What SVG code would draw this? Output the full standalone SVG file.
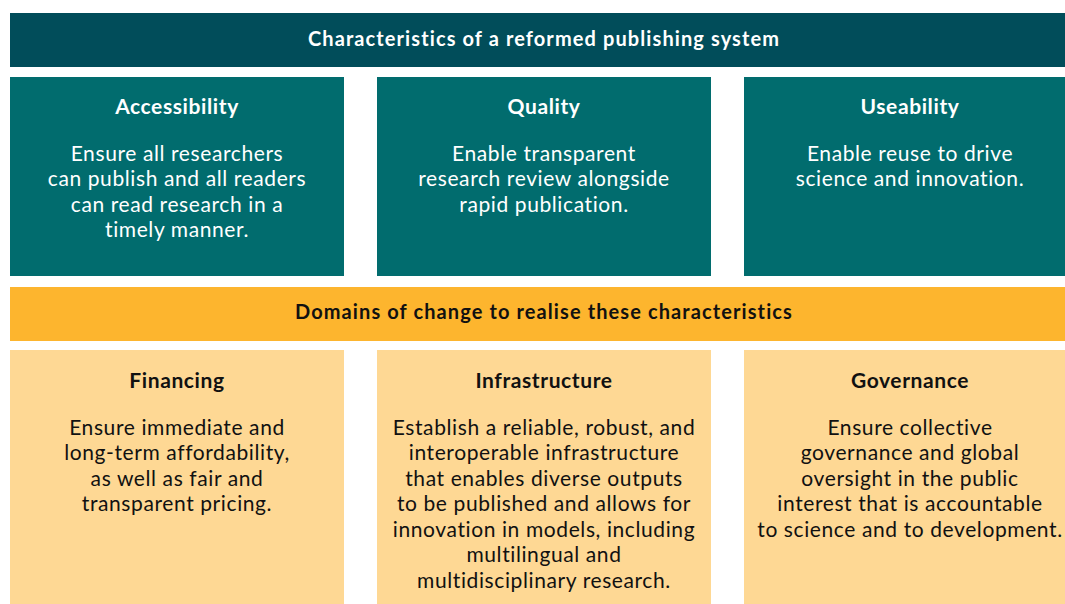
<svg xmlns="http://www.w3.org/2000/svg" width="1065" height="604" viewBox="0 0 1065 604">
  <style>
    .banner-dark { fill: #014d5a; }
    .teal { fill: #016c6e; }
    .banner-gold { fill: #fdb52e; }
    .light { fill: #fed894; }
    text { font-family: "Lato", "Liberation Sans", sans-serif; text-anchor: middle; }
    .title { font-size: 20px; font-weight: 700; letter-spacing: 1.1px; }
    .head { font-size: 21px; font-weight: 700; letter-spacing: 0.6px; }
    .body { font-size: 21px; font-weight: 400; letter-spacing: 0.6px; }
    .w { fill: #ffffff; }
    .k { fill: #111111; }
  </style>
  <rect width="1065" height="604" fill="#ffffff"/>

  <!-- Top banner -->
  <g id="banner-characteristics">
    <rect class="banner-dark" x="10" y="13" width="1055" height="54"/>
    <text class="title w" x="544" y="46">Characteristics of a reformed publishing system</text>
  </g>

  <!-- Characteristic boxes -->
  <g id="node-accessibility">
    <rect class="teal" x="10" y="77" width="334" height="199"/>
    <text class="head w" x="177" y="114">Accessibility</text>
    <text class="body w" x="177" y="161">Ensure all researchers</text>
    <text class="body w" x="177" y="186">can publish and all readers</text>
    <text class="body w" x="177" y="212">can read research in a</text>
    <text class="body w" x="177" y="237">timely manner.</text>
  </g>
  <g id="node-quality">
    <rect class="teal" x="377" y="77" width="334" height="199"/>
    <text class="head w" x="544" y="114">Quality</text>
    <text class="body w" x="544" y="161">Enable transparent</text>
    <text class="body w" x="544" y="186">research review alongside</text>
    <text class="body w" x="544" y="212">rapid publication.</text>
  </g>
  <g id="node-useability">
    <rect class="teal" x="744" y="77" width="321" height="199"/>
    <text class="head w" x="910" y="114">Useability</text>
    <text class="body w" x="910" y="161">Enable reuse to drive</text>
    <text class="body w" x="910" y="186">science and innovation.</text>
  </g>

  <!-- Domains banner -->
  <g id="banner-domains">
    <rect class="banner-gold" x="10" y="287" width="1055" height="54"/>
    <text class="title k" x="544" y="319">Domains of change to realise these characteristics</text>
  </g>

  <!-- Domain boxes -->
  <g id="node-financing">
    <rect class="light" x="10" y="350" width="334" height="254"/>
    <text class="head k" x="177" y="388">Financing</text>
    <text class="body k" x="177" y="435">Ensure immediate and</text>
    <text class="body k" x="177" y="460">long-term affordability,</text>
    <text class="body k" x="177" y="486">as well as fair and</text>
    <text class="body k" x="177" y="511">transparent pricing.</text>
  </g>
  <g id="node-infrastructure">
    <rect class="light" x="377" y="350" width="334" height="254"/>
    <text class="head k" x="544" y="388">Infrastructure</text>
    <text class="body k" x="544" y="435">Establish a reliable, robust, and</text>
    <text class="body k" x="544" y="460">interoperable infrastructure</text>
    <text class="body k" x="544" y="486">that enables diverse outputs</text>
    <text class="body k" x="544" y="511">to be published and allows for</text>
    <text class="body k" x="544" y="537">innovation in models, including</text>
    <text class="body k" x="544" y="562">multilingual and</text>
    <text class="body k" x="544" y="588">multidisciplinary research.</text>
  </g>
  <g id="node-governance">
    <rect class="light" x="744" y="350" width="321" height="254"/>
    <text class="head k" x="910" y="388">Governance</text>
    <text class="body k" x="910" y="435">Ensure collective</text>
    <text class="body k" x="910" y="460">governance and global</text>
    <text class="body k" x="910" y="486">oversight in the public</text>
    <text class="body k" x="910" y="511">interest that is accountable</text>
    <text class="body k" x="910" y="537">to science and to development.</text>
  </g>
</svg>
